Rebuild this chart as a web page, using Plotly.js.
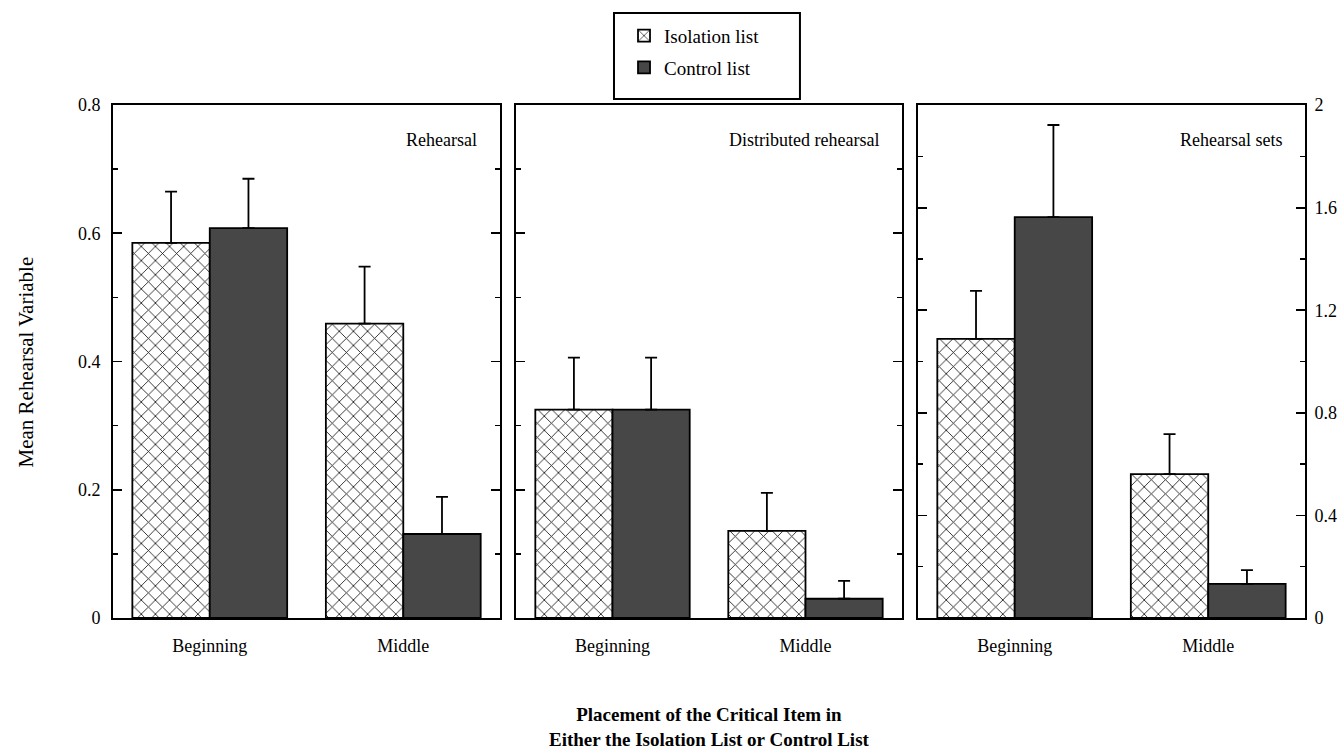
<!DOCTYPE html>
<html>
<head>
<meta charset="utf-8">
<script src="https://cdn.plot.ly/plotly-3.0.1.min.js"></script>
<style>html,body{margin:0;padding:0;background:#fff;}#chart{width:1339px;height:751px;}</style>
</head>
<body>
<div id="chart"></div>
<script>
// ---- data ----
const categories = ['Beginning', 'Middle'];
const seriesNames = ['Isolation list', 'Control list'];
const panelTitles = ['Rehearsal', 'Distributed rehearsal', 'Rehearsal sets'];

const rehearsalIso = [0.585, 0.459];
const rehearsalIsoErr = [0.080, 0.089];
const rehearsalCtrl = [0.608, 0.131];
const rehearsalCtrlErr = [0.077, 0.058];

const distIso = [0.325, 0.136];
const distIsoErr = [0.081, 0.059];
const distCtrl = [0.325, 0.030];
const distCtrlErr = [0.081, 0.028];

const setsIso = [1.088, 0.561];
const setsIsoErr = [0.187, 0.156];
const setsCtrl = [1.563, 0.133];
const setsCtrlErr = [0.359, 0.054];

const leftTicks = [0, 0.2, 0.4, 0.6, 0.8];
const rightTicks = [0, 0.4, 0.8, 1.2, 1.6, 2];

// ---- build ----
const FONT = 'Liberation Serif, Times New Roman, serif';
const isoMarker = {
  color: 'white',
  pattern: {shape: 'x', size: 10, solidity: 0.16, fgcolor: '#111', bgcolor: 'white'},
  line: {color: 'black', width: 1.8}
};
const ctrlMarker = {color: '#474747', line: {color: 'black', width: 1.8}};
function err(a) {
  return {type: 'data', symmetric: false, array: a, arrayminus: a.map(() => 0),
          color: 'black', thickness: 1.8, width: 6};
}
const panels = [
  [rehearsalIso, rehearsalIsoErr, rehearsalCtrl, rehearsalCtrlErr],
  [distIso, distIsoErr, distCtrl, distCtrlErr],
  [setsIso, setsIsoErr, setsCtrl, setsCtrlErr]
];
const data = [];
panels.forEach((p, i) => {
  const sx = i === 0 ? 'x' : 'x' + (i + 1);
  const sy = i === 0 ? 'y' : 'y' + (i + 1);
  data.push({type: 'bar', x: categories, y: p[0], error_y: err(p[1]), name: seriesNames[0],
             legendgroup: 'iso', showlegend: i === 0, marker: isoMarker, xaxis: sx, yaxis: sy});
  data.push({type: 'bar', x: categories, y: p[2], error_y: err(p[3]), name: seriesNames[1],
             legendgroup: 'ctrl', showlegend: i === 0, marker: ctrlMarker, xaxis: sx, yaxis: sy});
});

const domains = [[0, 0.3247], [0.3381, 0.6619], [0.6753, 1]];
function xax(i) {
  return {domain: domains[i], anchor: i === 0 ? 'y' : 'y' + (i + 1), type: 'category',
          range: [-0.5, 1.5], showline: true, linecolor: 'black', linewidth: 2, mirror: true,
          ticks: '', showgrid: false, zeroline: false, ticklabelstandoff: 10,
          tickfont: {family: FONT, size: 18, color: 'black'}};
}
function yax(i) {
  const right = i === 2;
  return {anchor: i === 0 ? 'x' : 'x' + (i + 1),
          range: right ? [0, 2] : [0, 0.8],
          tickvals: right ? rightTicks : leftTicks,
          showticklabels: i !== 1,
          side: right ? 'right' : 'left',
          ticks: 'inside', ticklen: 9, tickwidth: 1.8, tickcolor: 'black',
          ticklabelstandoff: right ? 4 : 7,
          minor: {ticks: 'inside', ticklen: 5, tickwidth: 1.5, tickcolor: 'black', dtick: right ? 0.2 : 0.1, showgrid: false},
          showline: true, linecolor: 'black', linewidth: 2, mirror: 'ticks',
          showgrid: false, zeroline: false,
          tickfont: {family: FONT, size: 18, color: 'black'}};
}

const annotations = panelTitles.map((t, i) => ({
  text: t, xref: (i === 0 ? 'x' : 'x' + (i + 1)) + ' domain', yref: (i === 0 ? 'y' : 'y' + (i + 1)) + ' domain',
  x: 0.945, y: 0.932, xanchor: 'right', yanchor: 'middle', showarrow: false,
  font: {family: FONT, size: 18, color: 'black'}
}));
annotations.push({
  text: '<b>Placement of the Critical Item in<br>Either the Isolation List or Control List</b>',
  xref: 'paper', yref: 'paper', x: 0.5, y: -0.163, xanchor: 'center', yanchor: 'top',
  showarrow: false, font: {family: FONT, size: 19, color: 'black'}
});
annotations.push({
  text: 'Mean Rehearsal Variable', xref: 'paper', yref: 'paper', x: -0.073, y: 0.5,
  textangle: -90, xanchor: 'center', yanchor: 'middle', showarrow: false,
  font: {family: FONT, size: 21, color: 'black'}
});

const layout = {
  width: 1339, height: 751,
  margin: {l: 113, r: 34, t: 105, b: 133},
  paper_bgcolor: 'white', plot_bgcolor: 'white',
  barmode: 'group', bargap: 0.2, bargroupgap: 0,
  xaxis: xax(0), xaxis2: xax(1), xaxis3: xax(2),
  yaxis: yax(0), yaxis2: yax(1), yaxis3: yax(2),
  showlegend: true,
  legend: {x: 0.4287, y: 1.172, xanchor: 'left', yanchor: 'top', bgcolor: 'rgba(0,0,0,0)',
           borderwidth: 0, font: {family: FONT, size: 19, color: 'black'}, tracegroupgap: 4},
  shapes: [{type: 'rect', xref: 'paper', yref: 'paper', x0: 0.4203, x1: 0.5763, y0: 1.0117, y1: 1.1793,
            line: {color: 'black', width: 2}, fillcolor: 'rgba(0,0,0,0)'}],
  annotations: annotations,
  font: {family: FONT, color: 'black'}
};
Plotly.newPlot('chart', data, layout, {displayModeBar: false, staticPlot: true});
</script>
</body>
</html>
